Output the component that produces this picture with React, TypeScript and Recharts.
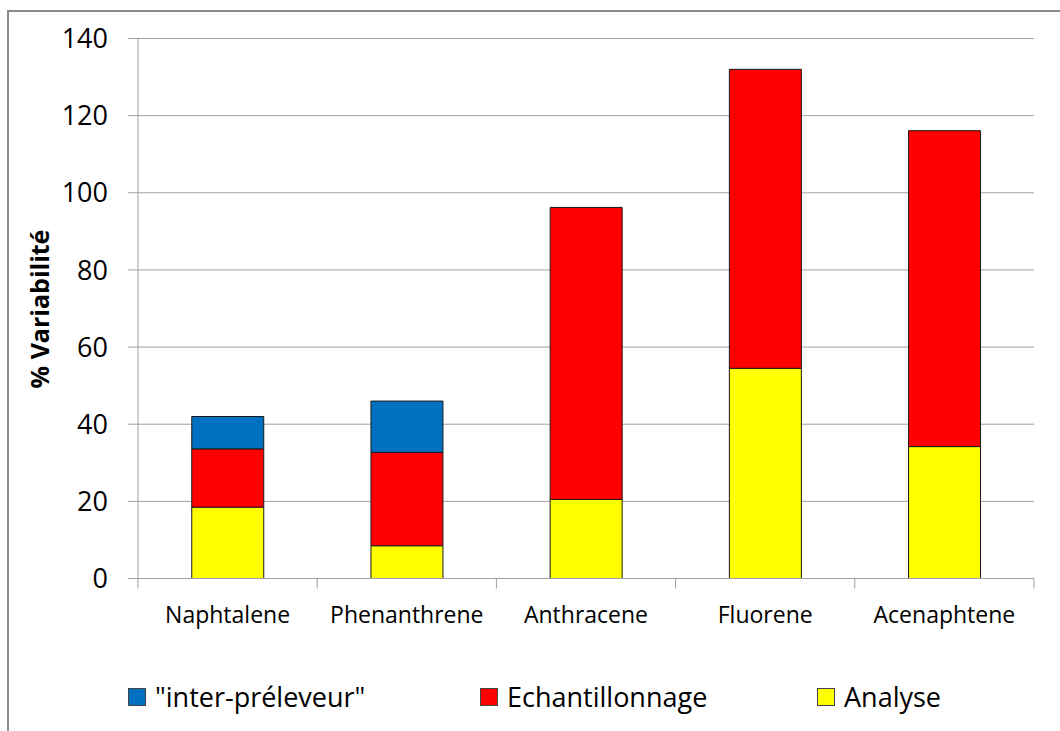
import React from "react";
import { BarChart, Bar, XAxis, YAxis, CartesianGrid } from "recharts";

const categories = ["Naphtalene", "Phenanthrene", "Anthracene", "Fluorene", "Acenaphtene"];
const analyse = [18.5, 8.5, 20.5, 54.5, 34.2];
const echantillonnage = [15.1, 24.2, 75.7, 77.5, 81.9];
const interPreleveur = [8.4, 13.3, 0, 0, 0];
const yTicks = [0, 20, 40, 60, 80, 100, 120, 140];

const seriesNames = ["Analyse", "Echantillonnage", '"inter-préleveur"'];
const seriesKeys = ["analyse", "echantillonnage", "inter"];
const seriesColors = ["#FFFF00", "#FF0000", "#0070C0"];

const data = categories.map((c, i) => ({
  name: c,
  analyse: analyse[i],
  echantillonnage: echantillonnage[i],
  inter: interPreleveur[i] || null,
}));

const FONT = "'Open Sans', 'DejaVu Sans', sans-serif";

const XTick = (props: any) => {
  const { x, y, payload, index } = props;
  const half = payload && payload.offset ? payload.offset : 89.6;
  const isLast = index === categories.length - 1;
  return (
    <g>
      <line x1={x - half} x2={x - half} y1={y} y2={y + 10} stroke="#a0a0a0" strokeWidth={1} />
      {isLast && <line x1={x + half} x2={x + half} y1={y} y2={y + 10} stroke="#a0a0a0" strokeWidth={1} />}
      <text x={x} y={y + 28} dy="0.71em" textAnchor="middle" fill="#000" fontSize={23} fontFamily={FONT}>
        {payload.value}
      </text>
    </g>
  );
};

const YLabel = () => (
  <text
    x={39}
    y={309}
    transform="rotate(-90 39 309)"
    textAnchor="middle"
    dominantBaseline="central"
    fontSize={25}
    fontWeight="bold"
    fontFamily={FONT}
    fill="#000"
  >
    % Variabilité
  </text>
);

const legendOrder = [2, 1, 0];
const legendLeft = [128, 480, 817];

export default function App() {
  return (
    <div
      style={{
        position: "absolute",
        left: 0,
        top: 0,
        width: 1060,
        height: 731,
        overflow: "hidden",
        background: "#fff",
        fontFamily: FONT,
      }}
    >
      <div
        style={{
          position: "absolute",
          left: 7,
          top: 10,
          width: 2000,
          height: 2000,
          border: "2px solid #8c8c8c",
        }}
      />
      <div style={{ position: "absolute", left: 0, top: 0 }}>
        <BarChart
          width={1060}
          height={731}
          data={data}
          margin={{ top: 38.5, right: 26, bottom: 112.5, left: 38 }}
          barCategoryGap="30%"
        >
          <CartesianGrid vertical={false} stroke="#a0a0a0" strokeWidth={1} />
          <XAxis
            dataKey="name"
            height={40}
            tickLine={false}
            tickSize={0}
            tickMargin={0}
            axisLine={{ stroke: "#a0a0a0", strokeWidth: 1 }}
            tick={<XTick />}
            interval={0}
          />
          <YAxis
            width={100}
            domain={[0, 140]}
            ticks={yTicks}
            tickSize={10}
            tickMargin={20}
            tickLine={{ stroke: "#a0a0a0", strokeWidth: 1 }}
            axisLine={{ stroke: "#a0a0a0", strokeWidth: 1 }}
            tick={{ fill: "#000", fontSize: 27, fontFamily: FONT }}
            label={<YLabel />}
          />
          {seriesKeys.map((k, i) => (
            <Bar
              key={k}
              dataKey={k}
              name={seriesNames[i]}
              stackId="a"
              fill={seriesColors[i]}
              stroke="#1a1a1a"
              strokeWidth={1}
              isAnimationActive={false}
            />
          ))}
        </BarChart>
      </div>
      {legendOrder.map((si, j) => (
        <div
          key={si}
          style={{
            position: "absolute",
            left: legendLeft[j],
            top: 680,
            height: 34,
            display: "flex",
            alignItems: "center",
            whiteSpace: "nowrap",
          }}
        >
          <span
            style={{
              display: "inline-block",
              width: 16,
              height: 16,
              background: seriesColors[si],
              border: "1px solid #444",
              marginRight: 9,
            }}
          />
          <span style={{ fontSize: 27, color: "#000", lineHeight: "34px" }}>{seriesNames[si]}</span>
        </div>
      ))}
    </div>
  );
}
